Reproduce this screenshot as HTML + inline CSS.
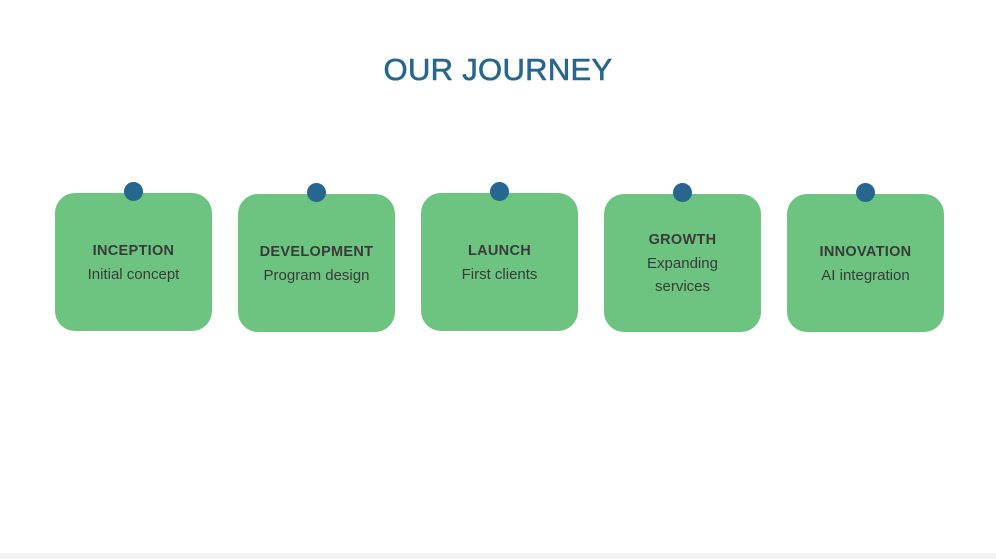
<!DOCTYPE html>
<html><head><style>
body{margin:0;width:996px;height:559px;background:#fff;position:relative;overflow:hidden;font-family:"Liberation Sans",sans-serif}
h1{position:absolute;left:0;width:996px;top:52px;margin:0;text-align:center;font-size:31px;font-weight:normal;color:#27668f;letter-spacing:0.3px;-webkit-text-stroke:0.6px #27668f}
.c{position:absolute;width:157px;height:138px;background:#6dc481;border-radius:20px;display:flex;flex-direction:column;justify-content:center;align-items:center;text-align:center;color:#3a3a3a}
.c b{font-size:14.5px;letter-spacing:0.3px;line-height:24px}
.c span{font-size:15px;line-height:23px}
.d{position:absolute;width:19px;height:19px;border-radius:50%;background:#27668f;left:69px;top:-11px}
.bot{position:absolute;left:0;top:553px;width:996px;height:6px;background:#f3f3f3}
</style></head><body>
<h1>OUR JOURNEY</h1>
<div class="c" style="left:55px;top:193px"><div class="d"></div><b>INCEPTION</b><span>Initial concept</span></div>
<div class="c" style="left:238px;top:194px"><div class="d"></div><b>DEVELOPMENT</b><span>Program design</span></div>
<div class="c" style="left:421px;top:193px"><div class="d"></div><b>LAUNCH</b><span>First clients</span></div>
<div class="c" style="left:604px;top:194px"><div class="d"></div><b>GROWTH</b><span>Expanding<br>services</span></div>
<div class="c" style="left:787px;top:194px"><div class="d"></div><b>INNOVATION</b><span>AI integration</span></div>
<div class="bot"></div>
</body></html>
